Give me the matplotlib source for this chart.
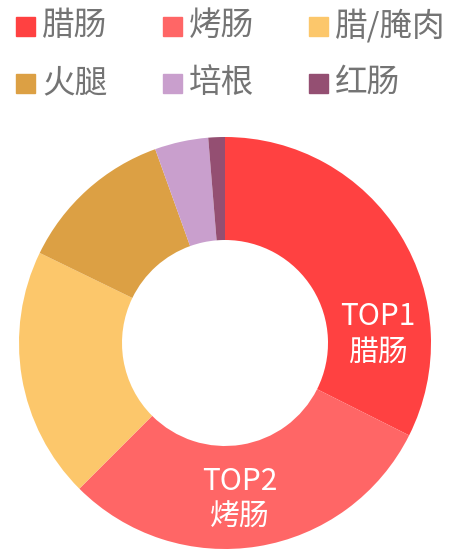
import matplotlib.pyplot as plt
from matplotlib.patches import Rectangle

plt.rcParams['font.family'] = ['Noto Sans CJK SC', 'DejaVu Sans']

# share of each category
categories = ['腊肠', '烤肠', '腊/腌肉', '火腿', '培根', '红肠']
shares = [32.4, 30.1, 19.7, 12.3, 4.2, 1.3]
colors = ['#FF4141', '#FF6666', '#FCC76B', '#DCA044', '#C99FCD', '#944F72']
top_labels = ['TOP1\n腊肠', 'TOP2\n烤肠']

W, H = 449, 549
fig = plt.figure(figsize=(W / 100, H / 100), dpi=100)

# donut: centre (225, 343) px, outer radius 206 px
cx, cy, r = 225, 343, 206
ax = fig.add_axes([(cx - r) / W, (H - cy - r) / H, 2 * r / W, 2 * r / H])
ax.pie(shares, colors=colors, startangle=90, counterclock=False, radius=1,
       wedgeprops=dict(width=0.5, linewidth=0))
ax.set_xlim(-1, 1)
ax.set_ylim(-1, 1)
ax.axis('off')

ax.text(0.74, 0.04, top_labels[0], color='white', fontsize=21.5, ha='center',
        va='center', linespacing=1.2, fontweight='light')
ax.text(0.07, -0.76, top_labels[1], color='white', fontsize=21.5, ha='center',
        va='center', linespacing=1.2, fontweight='light')

# legend, 3 columns x 2 rows
col_x = [16, 163, 309]
row_y = [26, 83]
for i, (name, c) in enumerate(zip(categories, colors)):
    x = col_x[i % 3]
    y = row_y[i // 3]
    fig.patches.append(Rectangle((x / W, (H - y - 9.5) / H), 19 / W, 19 / H,
                                 transform=fig.transFigure, color=c))
    fig.text((x + 26) / W, (H - y) / H, name, fontsize=23.5, color='#747474',
             ha='left', va='center')

fig.savefig('out.png', dpi=100, facecolor='white')
